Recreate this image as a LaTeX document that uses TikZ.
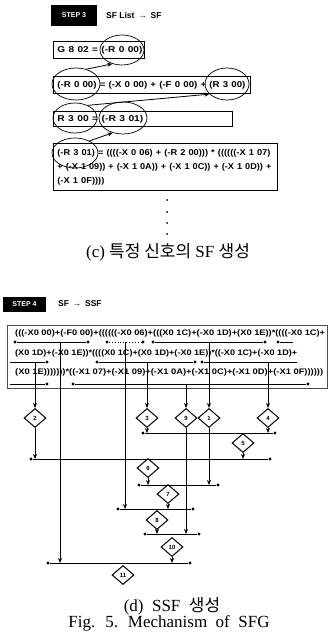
\documentclass[tikz,border=0pt]{standalone}
\usepackage{fontspec}
\usepackage{graphicx}
\setmainfont{Liberation Serif}
\newfontfamily\sfb{Liberation Sans}
\newfontfamily\kr{Noto Sans CJK KR}
\usetikzlibrary{shapes.geometric,arrows.meta}
\newcommand{\wline}[2]{\resizebox{#1pt}{\height}{#2}}
\begin{document}
\begin{tikzpicture}[x=1pt,y=-1pt,
  stepbox/.style={fill=black,text=white,font=\sfb\bfseries\fontsize{7}{7}\selectfont,inner sep=0pt},
  steptitle/.style={font=\sfb\bfseries\fontsize{8.5}{8.5}\selectfont,anchor=west,inner sep=0pt},
  exprbox/.style={draw,line width=0.8pt,anchor=north west,inner xsep=4pt,inner ysep=0pt,align=left,font=\sfb\bfseries\fontsize{8.5}{14}\selectfont},
  oval/.style={draw,ellipse,line width=0.7pt,inner sep=0pt},
  arr/.style={-{Stealth[length=5pt,width=4pt]},line width=0.8pt},
  ssf/.style={anchor=west,inner sep=0pt,font=\sfb\bfseries\fontsize{8}{8}\selectfont},
  dnode/.style={diamond,draw,line width=1pt,minimum width=22pt,minimum height=19pt,inner sep=0pt,font=\sfb\bfseries\fontsize{6}{6}\selectfont},
  bar/.style={line width=0.9pt},
  dot/.style={circle,fill=black,inner sep=0pt,minimum size=3.2pt},
  vdot/.style={circle,fill=black,inner sep=0pt,minimum size=2pt},
  captext/.style={inner sep=0pt,font=\fontsize{17}{17}\selectfont}
]
\useasboundingbox (0,0) rectangle (329,639);
\fill[white] (0,0) rectangle (329,639);

% ---------- STEP 3 ----------
\node[stepbox,minimum width=46pt,minimum height=21pt] (s3) at (74,15.5) {STEP 3};
\node[steptitle] (s3t) at (106,15) {SF List \,→\, SF};

\node[exprbox,minimum width=91pt,minimum height=17pt,text width=83pt] (b1) at (53,41) {\wline{85}{G 8 02 = (-R 0 00)}};
\node[exprbox,minimum width=197pt,minimum height=17pt,text width=189pt] (b2) at (53,76) {\wline{188}{(-R 0 00) = (-X 0 00) + (-F 0 00) + (R 3 00)}};
\node[exprbox,minimum width=179pt,minimum height=15pt,text width=171pt] (b3) at (53,111) {\wline{86}{R 3 00 = (-R 3 01)}};
\node[exprbox,minimum width=224pt,minimum height=47pt,text width=216pt] (b4) at (53,143) {\wline{213}{(-R 3 01) = ((((-X 0 06) + (-R 2 00))) * ((((((-X 1 07)}\\
\wline{214}{+ (-X 1 09)) + (-X 1 0A)) + (-X 1 0C)) + (-X 1 0D)) +}\\
\wline{47}{(-X 1 0F))))}};

\node[oval,minimum width=44pt,minimum height=30pt] (e1) at (122,50) {};
\node[oval,minimum width=48pt,minimum height=32pt] (e2a) at (76,84) {};
\node[oval,minimum width=44pt,minimum height=32pt] (e2b) at (227,84) {};
\node[oval,minimum width=44pt,minimum height=30pt] (e3a) at (75,118) {};
\node[oval,minimum width=48pt,minimum height=32pt] (e3b) at (123,118) {};
\node[oval,minimum width=46pt,minimum height=30pt] (e4) at (75,153) {};

\draw[arr] (e2a.55) -- (e1.235);
\draw[arr] (e3a.45) -- (e2b.210);
\draw[arr] (e4.40) -- (e3b.235);

\node[vdot] (d1) at (167,200) {};
\node[vdot] (d2) at (167,212) {};
\node[vdot] (d3) at (167,223) {};
\node[vdot] (d4) at (167,234) {};

\node[captext] (capc) at (168,252) {(c) {\kr 특정 신호의} SF {\kr 생성}};

% ---------- STEP 4 ----------
\node[stepbox,minimum width=43pt,minimum height=15pt] (s4) at (24.5,304) {STEP 4};
\node[steptitle] (s4t) at (58,304) {SF \,→\, SSF};

\draw[line width=0.5pt,black!70] (7,325) rectangle (327,388);

\node[ssf] (l1) at (15,333) {\wline{310}{(((-X0 00)+(-F0 00)+((((((-X0 06)+(((X0 1C)+(-X0 1D)+(X0 1E))*((((-X0 1C)+}};
\node[ssf] (l2) at (15,353) {\wline{282}{(X0 1D)+(-X0 1E))*((((X0 1C)+(X0 1D)+(-X0 1E))*((-X0 1C)+(-X0 1D)+}};
\node[ssf] (l3) at (15,372) {\wline{308}{(X0 1E)))))))*((-X1 07)+(-X1 09)+(-X1 0A)+(-X1 0C)+(-X1 0D)+(-X1 0F))))))}};

% underline segments
\node[dot] (u1a) at (15,342) {};  \node[dot] (u1b) at (88,342) {};
\node[dot] (u2a) at (107,342) {}; \node[dot] (u2b) at (143,342) {};
\node[dot] (u3a) at (153,342) {}; \node[dot] (u3b) at (265,342) {};
\node[dot] (u4a) at (278,342) {}; \coordinate (u4b) at (293,342);
\coordinate (u5a) at (10,362);    \node[dot] (u5b) at (47,362) {};
\node[dot] (u6a) at (97,362) {};  \node[dot] (u6b) at (195,362) {};
\node[dot] (u7a) at (202,362) {}; \coordinate (u7b) at (297,362);
\coordinate (u8a) at (10,384);    \node[dot] (u8b) at (47,384) {};
\node[dot] (u9a) at (73,384) {};  \node[dot] (u9b) at (308,384) {};
\draw[bar] (u1a) -- (u1b);
\draw[bar,dotted] (u2a) -- (u2b);
\draw[bar] (u3a) -- (u3b);
\draw[bar] (u4a) -- (u4b);
\draw[bar] (u5a) -- (u5b);
\draw[bar] (u6a) -- (u6b);
\draw[bar] (u7a) -- (u7b);
\draw[bar] (u8a) -- (u8b);
\draw[bar] (u9a) -- (u9b);

% diamonds
\node[dnode] (n2) at (35,418) {2};
\node[dnode] (n3) at (147,418) {3};
\node[dnode] (n9) at (186,418) {9};
\node[dnode] (n1) at (209,418) {1};
\node[dnode] (n4) at (268,418) {4};
\node[dnode] (n5) at (243,443) {5};
\node[dnode] (n6) at (148,468) {6};
\node[dnode] (n7) at (168,494) {7};
\node[dnode] (n8) at (157,520) {8};
\node[dnode] (n10) at (172,547) {10};
\node[dnode] (n11) at (123,575) {11};

% bars
\node[dot] (ba1) at (143,433) {}; \node[dot] (ba2) at (275,433) {};
\node[dot] (bb1) at (31,459) {};  \node[dot] (bb2) at (270,459) {};
\node[dot] (bc1) at (139,485) {}; \node[dot] (bc2) at (218,485) {};
\node[dot] (bd1) at (118,509) {}; \node[dot] (bd2) at (193,509) {};
\node[dot] (be1) at (145,534) {}; \node[dot] (be2) at (199,534) {};
\node[dot] (bf1) at (48,563) {};  \node[dot] (bf2) at (190,563) {};
\draw[bar] (ba1) -- (ba2);
\draw[bar] (bb1) -- (bb2);
\draw[bar] (bc1) -- (bc2);
\draw[bar] (bd1) -- (bd2);
\draw[bar] (be1) -- (be2);
\draw[bar] (bf1) -- (bf2);

% branch points on underlines and bar entries
\coordinate (x60) at (60,342);  \coordinate (x60e) at (60,563);
\coordinate (x125) at (125,342); \coordinate (x125e) at (125,509);
\coordinate (x209) at (209,342);
\coordinate (x35) at (35,362);
\coordinate (x147) at (147,362);
\coordinate (x268) at (268,362);
\coordinate (x187) at (186,384);

\draw[arr] (x60) -- (x60e);
\draw[arr] (x125) -- (x125e);
\draw[arr] (x209) -- (n1.north);
\draw[arr] (x35) -- (n2.north);
\draw[arr] (x147) -- (n3.north);
\draw[arr] (x268) -- (n4.north);
\draw[arr] (x187) -- (n9.north);

\draw[arr] (n3.south) -- (147,433);
\draw[arr] (n4.south) -- (268,433);
\draw[arr] (n5.south) -- (243,459);
\draw[arr] (n2.south) -- (35,459);
\draw[arr] (n6.south) -- (148,485);
\draw[arr] (n1.south) -- (209,485);
\draw[arr] (n7.south) -- (168,509);
\draw[arr] (n8.south) -- (157,534);
\draw[arr] (n9.south) -- (186,534);
\draw[arr] (n10.south) -- (172,563);

\node[captext] (capd) at (172,606) {\spaceskip=0.5em\relax (d) SSF {\kr 생성}};
\node[captext] (fig) at (169,623) {\spaceskip=0.5em\relax Fig. 5. Mechanism of SFG};
\end{tikzpicture}
\end{document}
